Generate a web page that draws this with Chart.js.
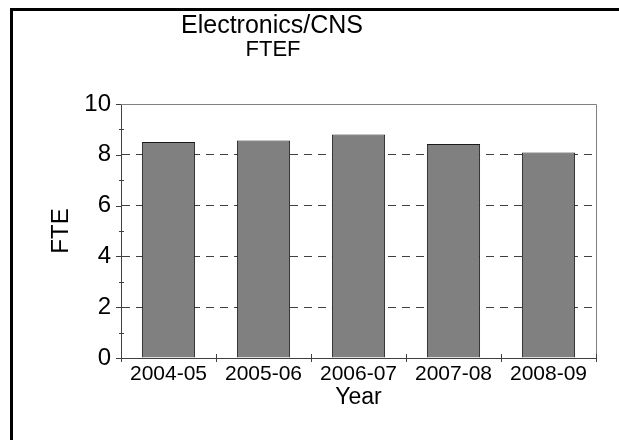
<!DOCTYPE html>
<html>
<head>
<meta charset="utf-8">
<script src="https://cdn.jsdelivr.net/npm/chart.js@4.4.1/dist/chart.umd.min.js"></script>
<style>
  html, body { margin: 0; padding: 0; background: #ffffff; }
  #wrap { width: 619px; height: 440px; position: relative; }
</style>
</head>
<body>
<div id="wrap"><canvas id="c" width="619" height="440"></canvas></div>
<script>
const categories = ["2004-05", "2005-06", "2006-07", "2007-08", "2008-09"];
const fteValues = [8.50, 8.56, 8.80, 8.43, 8.09];
const titleLines = ["Electronics/CNS", "FTEF"];
const yAxisTitle = "FTE";
const xAxisTitle = "Year";
const yMin = 0, yMax = 10, yStep = 2;

const FONT = "'Liberation Sans', Arial, Helvetica, sans-serif";
const AXIS = "#404040";

const decor = {
  id: 'decor',
  beforeDraw(chart) {
    const ctx = chart.ctx;
    ctx.save();
    ctx.fillStyle = '#ffffff';
    ctx.fillRect(0, 0, chart.width, chart.height);
    // outer frame (extends beyond right and bottom)
    ctx.strokeStyle = '#000000';
    ctx.lineWidth = 3;
    ctx.beginPath();
    ctx.moveTo(11.5, chart.height + 5);
    ctx.lineTo(11.5, 9.5);
    ctx.lineTo(chart.width + 5, 9.5);
    ctx.stroke();
    // title
    ctx.fillStyle = '#000000';
    ctx.textAlign = 'center';
    ctx.textBaseline = 'middle';
    ctx.font = '25px ' + FONT;
    ctx.fillText(titleLines[0], 272, 26);
    ctx.font = '22px ' + FONT;
    ctx.fillText(titleLines[1], 273, 50);
    ctx.restore();
  },
  afterDraw(chart) {
    const ctx = chart.ctx;
    const a = chart.chartArea;
    const y = chart.scales.y, x = chart.scales.x;
    ctx.save();
    // plot top and right border
    ctx.strokeStyle = '#808080';
    ctx.lineWidth = 1;
    ctx.beginPath();
    ctx.moveTo(a.left, a.top + 0.5);
    ctx.lineTo(a.right + 0.5, a.top + 0.5);
    ctx.lineTo(a.right + 0.5, a.bottom);
    ctx.stroke();
    // y ticks
    ctx.strokeStyle = AXIS;
    ctx.beginPath();
    for (let v = yMin; v <= yMax; v += 1) {
      const py = Math.round(y.getPixelForValue(v)) + 0.5;
      if (v % yStep === 0) {
        ctx.moveTo(a.left - 5, py); ctx.lineTo(a.left, py);
      } else {
        ctx.moveTo(a.left - 2, py); ctx.lineTo(a.left + 3, py);
      }
    }
    // x ticks at category boundaries
    for (let i = 0; i <= categories.length; i++) {
      let xx;
      if (i === 0) xx = Math.round(a.left);
      else if (i === categories.length) xx = Math.round(a.right);
      else xx = Math.round((x.getPixelForValue(i - 1) + x.getPixelForValue(i)) / 2);
      ctx.moveTo(xx + 0.5, a.bottom - 4); ctx.lineTo(xx + 0.5, a.bottom + 4);
    }
    ctx.stroke();
    // axis titles
    ctx.fillStyle = '#000000';
    ctx.font = '23px ' + FONT;
    ctx.textAlign = 'center';
    ctx.textBaseline = 'middle';
    ctx.fillText(xAxisTitle, (a.left + a.right) / 2, 398);
    ctx.font = '24px ' + FONT;
    ctx.translate(61, (a.top + a.bottom) / 2);
    ctx.rotate(-Math.PI / 2);
    ctx.fillText(yAxisTitle, 0, 0);
    ctx.restore();
  }
};

new Chart(document.getElementById('c'), {
  type: 'bar',
  data: {
    labels: categories,
    datasets: [{
      data: fteValues,
      backgroundColor: '#808080',
      borderColor: '#1a1a1a',
      borderWidth: 1,
      borderSkipped: 'bottom',
      barPercentage: 0.56,
      categoryPercentage: 1.0
    }]
  },
  options: {
    responsive: false,
    animation: false,
    devicePixelRatio: 1,
    layout: { padding: { top: 104, right: 23, left: 0, bottom: 0 } },
    plugins: { legend: { display: false }, tooltip: { enabled: false }, title: { display: false } },
    scales: {
      x: {
        offset: true,
        grid: { display: false, drawTicks: false },
        border: { display: true, color: AXIS, width: 1 },
        ticks: { color: '#000', font: { family: FONT, size: 21 }, padding: 4, maxRotation: 0, autoSkip: false },
        afterFit(s) { s.height = 82; }
      },
      y: {
        min: yMin, max: yMax,
        grid: {
          drawTicks: false,
          color: (c) => (c.tick && (c.tick.value === yMin || c.tick.value === yMax)) ? 'rgba(0,0,0,0)' : AXIS,
          lineWidth: 1
        },
        border: { display: true, color: AXIS, width: 1, dash: [8, 6] },
        ticks: { stepSize: yStep, color: '#000', font: { family: FONT, size: 24 }, padding: 10 },
        afterFit(s) { s.width = 121; }
      }
    }
  },
  plugins: [decor]
});
</script>
</body>
</html>
